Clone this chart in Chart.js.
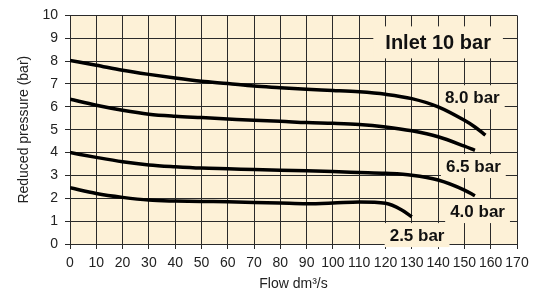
<!DOCTYPE html>
<html>
<head>
<meta charset="utf-8">
<script src="https://cdn.jsdelivr.net/npm/chart.js@4.4.0/dist/chart.umd.min.js"></script>
<style>
  html, body { margin: 0; padding: 0; background: #fff; }
  #wrap { width: 542px; height: 295px; }
</style>
</head>
<body>
<div id="wrap"><canvas id="chart"></canvas></div>
<script>
// Outlet curves (flow dm3/s -> reduced pressure bar)
const flow80 = [0, 10, 20, 30, 40, 50, 60, 70, 80, 90, 100, 110, 120, 130, 140, 150, 154, 158];
const pres80 = [8.03, 7.82, 7.6, 7.42, 7.26, 7.12, 7.02, 6.91, 6.84, 6.77, 6.72, 6.66, 6.55, 6.36, 6.0, 5.41, 5.12, 4.76];

const flow65 = [0, 10, 20, 30, 40, 50, 60, 70, 80, 90, 100, 110, 120, 130, 140, 150, 154];
const pres65 = [6.33, 6.07, 5.85, 5.68, 5.59, 5.53, 5.47, 5.41, 5.37, 5.31, 5.28, 5.23, 5.12, 4.95, 4.69, 4.28, 4.1];

const flow40 = [0, 10, 20, 30, 40, 50, 60, 70, 80, 90, 100, 110, 120, 130, 140, 150, 154];
const pres40 = [4.0, 3.79, 3.6, 3.46, 3.38, 3.32, 3.29, 3.26, 3.23, 3.2, 3.17, 3.13, 3.09, 3.01, 2.8, 2.36, 2.11];

const flow25 = [0, 10, 20, 30, 40, 50, 60, 70, 80, 90, 100, 110, 120, 126, 130];
const pres25 = [2.46, 2.21, 2.04, 1.92, 1.88, 1.86, 1.85, 1.82, 1.79, 1.76, 1.79, 1.84, 1.78, 1.5, 1.19];

// Curve labels: text, x (flow), y (bar)
const labelTexts = ["Inlet 10 bar", "8.0 bar", "6.5 bar", "4.0 bar", "2.5 bar"];
const labelX = [140, 153, 153.4, 155, 132];
const labelY = [8.82, 6.42, 3.41, 1.44, 0.39];

const xTitle = "Flow dm\u00b3/s";
const yTitle = "Reduced pressure (bar)";

const cream = "#fdf1d7";
const gridColor = "#2a2a2a";
const fontFamily = "'Liberation Sans', Arial, sans-serif";

function toPoints(xs, ys) {
    return xs.map((x, i) => ({ x: x, y: ys[i] }));
}

function curve(xs, ys) {
    return {
        data: toPoints(xs, ys),
        borderColor: "#000",
        borderWidth: 3.5,
        pointRadius: 0,
        fill: false,
        cubicInterpolationMode: "monotone",
        borderCapStyle: "butt"
    };
}

function labelFont(i) {
    return "bold " + (i === 0 ? 20 : 17) + "px " + fontFamily;
}

// cream fill behind the plot area
const plotBackground = {
    id: "plotBackground",
    beforeDraw(chart) {
        const { ctx, chartArea: a } = chart;
        ctx.save();
        ctx.fillStyle = cream;
        ctx.fillRect(a.left, a.top, a.right - a.left, a.bottom - a.top);
        ctx.restore();
    }
};

// boxes that hide the grid behind the labels (curves stay on top), then the text
const curveLabels = {
    id: "curveLabels",
    beforeDatasetsDraw(chart) {
        const { ctx, scales } = chart;
        ctx.save();
        labelTexts.forEach((t, i) => {
            ctx.font = labelFont(i);
            const px = scales.x.getPixelForValue(labelX[i]);
            const py = scales.y.getPixelForValue(labelY[i]);
            const w = ctx.measureText(t).width;
            const padX = i === 0 ? 12 : 5;
            const h = i === 0 ? 32 : 24;
            ctx.fillStyle = cream;
            ctx.fillRect(px - w / 2 - padX, py - h / 2, w + padX * 2, h);
        });
        ctx.restore();
    },
    afterDatasetsDraw(chart) {
        const { ctx, scales } = chart;
        ctx.save();
        ctx.textAlign = "center";
        ctx.textBaseline = "middle";
        ctx.fillStyle = "#111";
        labelTexts.forEach((t, i) => {
            ctx.font = labelFont(i);
            const px = scales.x.getPixelForValue(labelX[i]);
            const py = scales.y.getPixelForValue(labelY[i]);
            ctx.fillText(t, px, py + 1);
        });
        ctx.restore();
    }
};

new Chart(document.getElementById("chart"), {
    type: "line",
    data: {
        datasets: [
            curve(flow80, pres80),
            curve(flow65, pres65),
            curve(flow40, pres40),
            curve(flow25, pres25)
        ]
    },
    options: {
        responsive: true,
        maintainAspectRatio: false,
        animation: false,
        layout: { padding: { left: 0, right: 25, top: 15, bottom: 0 } },
        plugins: {
            legend: { display: false },
            tooltip: { enabled: false }
        },
        scales: {
            x: {
                type: "linear",
                min: 0,
                max: 170,
                ticks: {
                    stepSize: 10,
                    color: "#222",
                    padding: 6,
                    maxRotation: 0,
                    autoSkip: false,
                    font: { family: fontFamily, size: 14 }
                },
                grid: { color: gridColor, lineWidth: 1, tickLength: 5 },
                border: { color: gridColor, width: 1 },
                title: {
                    display: true,
                    text: xTitle,
                    color: "#222",
                    padding: { top: 0, bottom: 2 },
                    font: { family: fontFamily, size: 14 }
                },
                afterFit(scale) { scale.height = 51; }
            },
            y: {
                min: 0,
                max: 10,
                ticks: {
                    stepSize: 1,
                    color: "#222",
                    padding: 7,
                    font: { family: fontFamily, size: 14 }
                },
                grid: { color: gridColor, lineWidth: 1, tickLength: 5 },
                border: { color: gridColor, width: 1 },
                title: {
                    display: true,
                    text: yTitle,
                    color: "#222",
                    padding: { top: 16, bottom: 0 },
                    font: { family: fontFamily, size: 14 }
                },
                afterFit(scale) { scale.width = 70; }
            }
        }
    },
    plugins: [plotBackground, curveLabels]
});
</script>
</body>
</html>
